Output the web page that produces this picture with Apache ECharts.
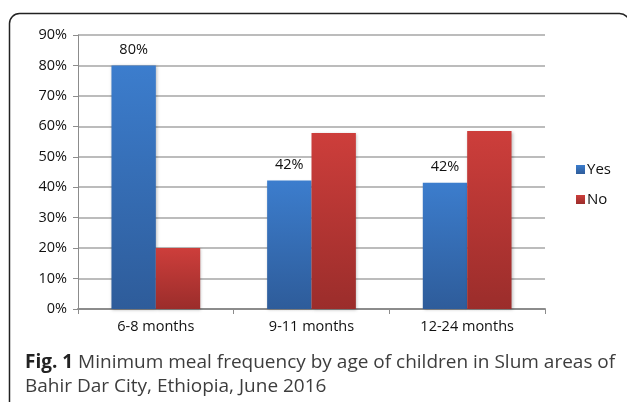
<!DOCTYPE html>
<html>
<head>
<meta charset="utf-8">
<script src="https://cdn.jsdelivr.net/npm/echarts@6/dist/echarts.min.js"></script>
<style>
  html, body { margin: 0; padding: 0; background: #fff; }
  #chart { width: 627px; height: 402px; }
</style>
</head>
<body>
<div id="chart"></div>
<script>
// Age groups and the share of children meeting minimum meal frequency
const categories = ['6-8 months', '9-11 months', '12-24 months'];
const yesValues = [80.0, 42.2, 41.5];
const noValues = [20.0, 57.8, 58.5];
const seriesNames = ['Yes', 'No'];
const yTicks = [0, 10, 20, 30, 40, 50, 60, 70, 80, 90];
const captionBold = 'Fig. 1';
const captionLine1 = ' Minimum meal frequency by age of children in Slum areas of';
const captionLine2 = 'Bahir Dar City, Ethiopia, June 2016';

const FONT = '"Open Sans", "Noto Sans", sans-serif';

function grad(top, bottom) {
  return new echarts.graphic.LinearGradient(0, 0, 0, 1, [
    { offset: 0, color: top },
    { offset: 1, color: bottom }
  ]);
}

const chart = echarts.init(document.getElementById('chart'), null, { renderer: 'canvas' });
chart.setOption({
  animation: false,
  backgroundColor: '#ffffff',
  grid: { left: 78, right: 82, top: 35, bottom: 93, containLabel: false },
  legend: {
    orient: 'vertical',
    left: 571,
    top: 157,
    itemWidth: 9,
    itemHeight: 9,
    itemGap: 15,
    icon: 'rect',
    textStyle: { fontFamily: FONT, fontSize: 15, color: '#111', padding: [0, 0, 0, -3] },
    data: seriesNames
  },
  xAxis: {
    type: 'category',
    data: categories,
    axisLine: { lineStyle: { color: '#8c8c8c', width: 2 } },
    axisTick: { show: true, length: 5, lineStyle: { color: '#8c8c8c', width: 1 } },
    axisLabel: { fontFamily: FONT, fontSize: 14.5, color: '#111', margin: 10 }
  },
  yAxis: {
    type: 'value',
    min: yTicks[0],
    max: yTicks[yTicks.length - 1],
    interval: 10,
    axisLine: { show: true, lineStyle: { color: '#8c8c8c', width: 1 } },
    axisTick: { show: true, length: 5, lineStyle: { color: '#8c8c8c' } },
    axisLabel: { fontFamily: FONT, fontSize: 14.5, color: '#111', margin: 11, formatter: v => v + '%' },
    splitLine: { lineStyle: { color: '#a6a6a6', width: 1.5 } }
  },
  series: [
    {
      name: seriesNames[0],
      type: 'bar',
      data: yesValues,
      barGap: '0%',
      barCategoryGap: '43%',
      itemStyle: {
        color: grad('#3c7dcd', '#2e5c9a'),
        shadowColor: 'rgba(0,0,0,0.25)', shadowBlur: 3, shadowOffsetX: 1, shadowOffsetY: 1
      },
      label: {
        show: true, position: 'top', distance: 8,
        fontFamily: FONT, fontSize: 14.5, color: '#111',
        formatter: p => Math.round(p.value) + '%'
      }
    },
    {
      name: seriesNames[1],
      type: 'bar',
      data: noValues,
      barGap: '0%',
      barCategoryGap: '43%',
      itemStyle: {
        color: grad('#cd3e3b', '#9b2d2b'),
        shadowColor: 'rgba(0,0,0,0.25)', shadowBlur: 3, shadowOffsetX: 1, shadowOffsetY: 1
      }
    }
  ],
  graphic: [
    {
      type: 'rect',
      shape: { x: 9.5, y: 13.5, width: 620, height: 420, r: 10 },
      style: { fill: 'none', stroke: '#222', lineWidth: 1.5 },
      silent: true
    },
    {
      type: 'text',
      left: 25,
      top: 353,
      style: {
        text: '{b|' + captionBold + '}{n|' + captionLine1 + '}',
        rich: {
          b: { fontFamily: FONT, fontSize: 19, fontWeight: 'bold', fill: '#222' },
          n: { fontFamily: FONT, fontSize: 19, fill: '#3d3d3d' }
        }
      }
    },
    {
      type: 'text',
      left: 25,
      top: 377,
      style: { text: captionLine2, fontFamily: FONT, fontSize: 19, fill: '#3d3d3d' }
    }
  ]
});
</script>
</body>
</html>
